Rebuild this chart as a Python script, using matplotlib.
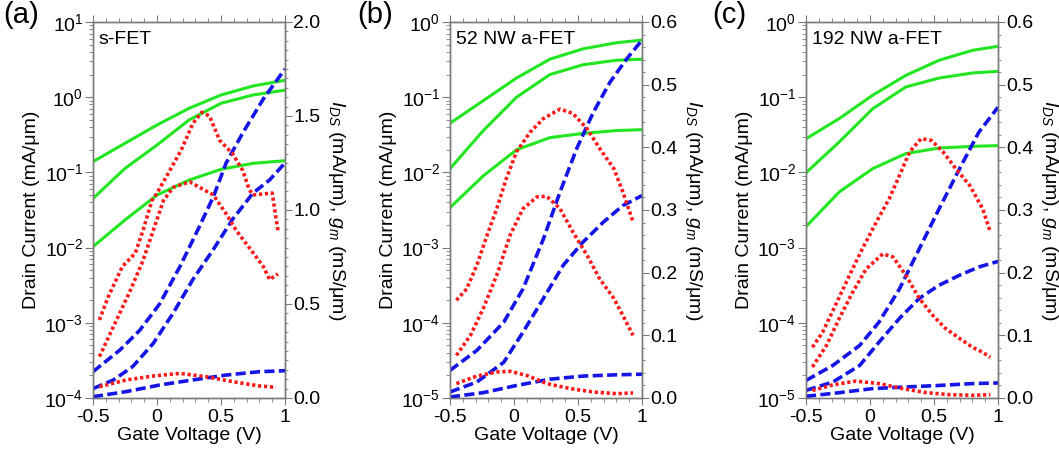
import matplotlib
matplotlib.use("Agg")
import matplotlib.pyplot as plt
from matplotlib.ticker import MultipleLocator, LogLocator, NullFormatter, FormatStrFormatter

plt.rcParams['font.family'] = ['Liberation Sans', 'DejaVu Sans']
plt.rcParams['mathtext.fontset'] = 'custom'
plt.rcParams['mathtext.rm'] = 'Liberation Sans'
plt.rcParams['mathtext.it'] = 'Liberation Sans:italic'
plt.rcParams['mathtext.default'] = 'regular'

# ---------------- data ----------------
panel_labels = ["(a)", "(b)", "(c)"]
device_names = ["s-FET", "52 NW a-FET", "192 NW a-FET"]
log_limits = [(1e-4, 1e1), (1e-5, 1e0), (1e-5, 1e0)]
lin_limits = [(0.0, 2.0), (0.0, 0.6), (0.0, 0.6)]
lin_major = [0.5, 0.1, 0.1]
lin_minor = [0.05, 0.02, 0.02]

# panel (a) s-FET
a_green_x = [-0.5, -0.25, 0.0, 0.25, 0.5, 0.75, 1.0]
a_green1 = [0.139, 0.244, 0.427, 0.711, 1.07, 1.41, 1.68]
a_green2 = [0.045, 0.113, 0.231, 0.498, 0.83, 1.07, 1.24]
a_green3 = [0.0103, 0.0233, 0.050, 0.079, 0.110, 0.132, 0.143]
a_blue1_x = [-0.5, -0.29, -0.135, 0.02, 0.18, 0.33, 0.44, 0.54, 0.67, 0.83, 1.0]
a_blue1 = [0.14, 0.255, 0.36, 0.50, 0.70, 0.91, 1.07, 1.25, 1.41, 1.59, 1.75]
a_blue2_x = [-0.5, -0.34, -0.19, -0.03, 0.125, 0.28, 0.44, 0.59, 0.75, 0.88, 1.0]
a_blue2 = [0.05, 0.096, 0.167, 0.29, 0.45, 0.63, 0.79, 0.95, 1.09, 1.16, 1.25]
a_blue3_x = [-0.5, -0.24, 0.02, 0.28, 0.54, 0.8, 1.0]
a_blue3 = [0.007, 0.034, 0.069, 0.096, 0.122, 0.14, 0.145]
a_red1_x = [-0.45, -0.38, -0.27, -0.17, -0.11, -0.04, 0.0, 0.1, 0.19, 0.28, 0.35, 0.41,
            0.49, 0.59, 0.67, 0.72, 0.75, 0.9, 0.945]
a_red1 = [0.415, 0.54, 0.70, 0.77, 0.89, 1.05, 1.09, 1.21, 1.32, 1.46, 1.52, 1.50,
          1.37, 1.30, 1.21, 1.11, 1.08, 1.09, 0.89]
a_red2_x = [-0.45, -0.34, -0.21, -0.11, -0.03, 0.05, 0.125, 0.255, 0.36, 0.44, 0.54,
            0.62, 0.72, 0.83, 0.88, 0.945]
a_red2 = [0.22, 0.38, 0.57, 0.73, 0.89, 1.05, 1.12, 1.15, 1.11, 1.08, 0.98, 0.89, 0.80,
          0.70, 0.63, 0.66]
a_red3_x = [-0.45, -0.24, -0.03, 0.18, 0.385, 0.59, 0.8, 0.93]
a_red3 = [0.06, 0.096, 0.117, 0.131, 0.113, 0.087, 0.064, 0.057]

# panel (b) 52 NW a-FET
b_green_x = [-0.5, -0.24, 0.02, 0.28, 0.54, 0.8, 1.0]
b_green1 = [0.045, 0.09, 0.18, 0.32, 0.44, 0.53, 0.575]
b_green2 = [0.0112, 0.036, 0.10, 0.20, 0.27, 0.31, 0.32]
b_green3 = [0.0034, 0.009, 0.020, 0.029, 0.033, 0.036, 0.037]
b_blue1_x = [-0.5, -0.29, -0.08, 0.07, 0.23, 0.36, 0.49, 0.62, 0.75, 0.88, 1.0]
b_blue1 = [0.044, 0.076, 0.121, 0.174, 0.254, 0.329, 0.398, 0.456, 0.504, 0.541, 0.571]
b_blue2_x = [-0.5, -0.29, -0.08, 0.07, 0.23, 0.385, 0.54, 0.7, 0.85, 1.0]
b_blue2 = [0.0096, 0.0255, 0.057, 0.105, 0.159, 0.212, 0.249, 0.281, 0.307, 0.323]
b_blue3_x = [-0.5, -0.24, 0.02, 0.28, 0.54, 0.8, 1.0]
b_blue3 = [0.0016, 0.0085, 0.020, 0.030, 0.035, 0.037, 0.038]
b_red1_x = [-0.45, -0.37, -0.29, -0.21, -0.135, -0.06, 0.02, 0.125, 0.23, 0.36, 0.46,
            0.57, 0.67, 0.78, 0.85, 0.93]
b_red1 = [0.156, 0.174, 0.212, 0.26, 0.302, 0.35, 0.393, 0.424, 0.446, 0.461, 0.454,
          0.43, 0.398, 0.366, 0.329, 0.281]
b_red2_x = [-0.45, -0.34, -0.24, -0.135, -0.03, 0.07, 0.18, 0.255, 0.36, 0.46, 0.57,
            0.67, 0.78, 0.85, 0.93]
b_red2 = [0.068, 0.10, 0.143, 0.196, 0.26, 0.302, 0.321, 0.322, 0.302, 0.265, 0.228,
          0.19, 0.159, 0.132, 0.10]
b_red3_x = [-0.45, -0.29, -0.135, -0.03, 0.1, 0.255, 0.44, 0.62, 0.8, 0.93]
b_red3 = [0.023, 0.035, 0.0415, 0.0426, 0.036, 0.023, 0.015, 0.0096, 0.0069, 0.008]

# panel (c) 192 NW a-FET
c_green_x = [-0.5, -0.24, 0.02, 0.28, 0.54, 0.8, 1.0]
c_green1 = [0.028, 0.052, 0.106, 0.195, 0.31, 0.42, 0.475]
c_green2 = [0.0099, 0.0254, 0.070, 0.137, 0.18, 0.21, 0.221]
c_green3 = [0.0019, 0.0055, 0.0112, 0.0178, 0.0211, 0.0222, 0.0227]
c_blue_x = [-0.5, -0.29, -0.08, 0.07, 0.23, 0.385, 0.54, 0.7, 0.85, 1.0]
c_blue1 = [0.028, 0.052, 0.084, 0.121, 0.174, 0.238, 0.302, 0.366, 0.424, 0.464]
c_blue2 = [0.0122, 0.0255, 0.052, 0.089, 0.127, 0.159, 0.18, 0.196, 0.209, 0.218]
c_blue3_x = [-0.5, -0.24, 0.02, 0.28, 0.54, 0.8, 1.0]
c_blue3 = [0.0027, 0.0085, 0.015, 0.0176, 0.020, 0.023, 0.024]
c_red1_x = [-0.45, -0.37, -0.27, -0.16, -0.06, 0.05, 0.15, 0.23, 0.31, 0.4, 0.48, 0.57,
            0.67, 0.78, 0.88, 0.94]
c_red1 = [0.081, 0.105, 0.148, 0.196, 0.238, 0.281, 0.318, 0.355, 0.393, 0.414, 0.411,
          0.393, 0.366, 0.339, 0.302, 0.265]
c_red2_x = [-0.45, -0.34, -0.24, -0.135, -0.03, 0.1, 0.18, 0.28, 0.385, 0.49, 0.59, 0.7,
            0.8, 0.88, 0.94]
c_red2 = [0.0495, 0.084, 0.127, 0.169, 0.206, 0.23, 0.225, 0.196, 0.159, 0.132, 0.111,
          0.095, 0.081, 0.073, 0.065]
c_red3_x = [-0.45, -0.29, -0.11, 0.07, 0.255, 0.44, 0.62, 0.8, 0.94]
c_red3 = [0.012, 0.021, 0.027, 0.023, 0.015, 0.0085, 0.0053, 0.0043, 0.0053]

panels = [
    dict(green=[(a_green_x, a_green1), (a_green_x, a_green2), (a_green_x, a_green3)],
         blue=[(a_blue1_x, a_blue1), (a_blue2_x, a_blue2), (a_blue3_x, a_blue3)],
         red=[(a_red1_x, a_red1), (a_red2_x, a_red2), (a_red3_x, a_red3)]),
    dict(green=[(b_green_x, b_green1), (b_green_x, b_green2), (b_green_x, b_green3)],
         blue=[(b_blue1_x, b_blue1), (b_blue2_x, b_blue2), (b_blue3_x, b_blue3)],
         red=[(b_red1_x, b_red1), (b_red2_x, b_red2), (b_red3_x, b_red3)]),
    dict(green=[(c_green_x, c_green1), (c_green_x, c_green2), (c_green_x, c_green3)],
         blue=[(c_blue_x, c_blue1), (c_blue_x, c_blue2), (c_blue3_x, c_blue3)],
         red=[(c_red1_x, c_red1), (c_red2_x, c_red2), (c_red3_x, c_red3)]),
]

# ---------------- style ----------------
GREEN = '#22e622'
BLUE = '#1515e6'
RED = '#ff1a1a'
SPINE = '#7a7a7a'
FS = 14

W, H = 1059, 457
fig = plt.figure(figsize=(W / 100, H / 100), dpi=100)
lefts = [93, 450, 806]
ax_w, ax_top, ax_bot = 192, 22, 398
label_x = [3, 357, 712]

for i, p in enumerate(panels):
    ax = fig.add_axes([lefts[i] / W, (H - ax_bot) / H, ax_w / W, (ax_bot - ax_top) / H])
    ax2 = ax.twinx()
    for x, y in p['green']:
        ax.plot(x, y, color=GREEN, lw=2.2, solid_capstyle='butt', solid_joinstyle='round')
    for x, y in p['blue']:
        ax2.plot(x, y, color=BLUE, lw=2.6, linestyle=(0, (2.8, 1.2)))
    for x, y in p['red']:
        ax2.plot(x, y, color=RED, lw=2.6, linestyle=(0, (0.9, 0.75)))

    ax.set_yscale('log')
    ax.set_ylim(*log_limits[i])
    ax.set_xlim(-0.5, 1.0)
    ax2.set_ylim(*lin_limits[i])

    ax.xaxis.set_minor_locator(MultipleLocator(0.1))
    ax.set_xticks([-0.5, 0, 0.5, 1.0])
    ax.set_xticklabels(['-0.5', '0', '0.5', '1'])
    ax.yaxis.set_major_locator(LogLocator(base=10, numticks=20))
    ax.yaxis.set_minor_locator(LogLocator(base=10, subs=range(2, 10), numticks=20))
    ax.yaxis.set_minor_formatter(NullFormatter())
    ax2.yaxis.set_major_locator(MultipleLocator(lin_major[i]))
    ax2.yaxis.set_minor_locator(MultipleLocator(lin_minor[i]))
    ax2.yaxis.set_major_formatter(FormatStrFormatter('%.1f'))

    for a in (ax, ax2):
        for s in a.spines.values():
            s.set_color(SPINE)
            s.set_linewidth(1.0)
    ax.tick_params(axis='both', which='both', direction='out', color=SPINE,
                   labelsize=FS, top=True, right=False)
    ax.tick_params(axis='y', which='major', length=6, pad=1)
    ax.tick_params(axis='y', which='minor', length=3)
    ax.tick_params(axis='x', which='major', length=5, pad=3)
    ax.tick_params(axis='x', which='minor', length=3)
    ax2.tick_params(axis='y', which='both', direction='out', color=SPINE, labelsize=FS, pad=1)
    ax2.tick_params(axis='y', which='major', length=5)
    ax2.tick_params(axis='y', which='minor', length=2.5)

    ax.set_xlabel('Gate Voltage (V)', fontsize=FS, labelpad=1)
    ax.set_ylabel('Drain Current (mA/μm)', fontsize=FS, labelpad=3)
    ax2.set_ylabel(r'$\mathit{I}_{\mathit{DS}}$ (mA/μm), $\mathit{g}_{\mathit{m}}$ (mS/μm)',
                   fontsize=FS, rotation=270, va='bottom', labelpad=4)

    ax.text(0.03, 0.975, device_names[i], transform=ax.transAxes, fontsize=FS,
            ha='left', va='top')
    fig.text(label_x[i] / W, 1 - 1 / H, panel_labels[i], fontsize=21,
             ha='left', va='top')

fig.savefig('out.png', dpi=100)
